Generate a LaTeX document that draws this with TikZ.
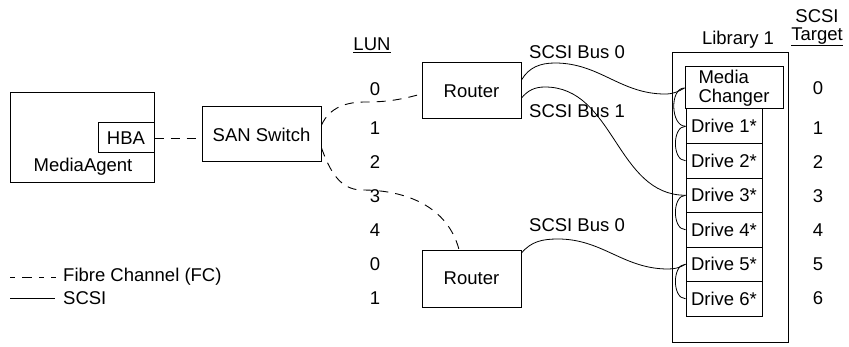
\documentclass[tikz,border=0pt]{standalone}
\usepackage{fontspec}
\setmainfont{Liberation Sans}
\begin{document}
\begin{tikzpicture}[x=1pt,y=1pt,
  font=\fontsize{18.5}{19}\selectfont,
  box/.style={draw, line width=1pt, inner sep=0pt, fill=white},
  lbl/.style={inner sep=0pt},
  fc/.style={line width=0.9pt, dash pattern=on 9pt off 7pt},
  scsi/.style={line width=0.8pt},
]
\useasboundingbox (0,0) rectangle (849,346);

% MediaAgent
\node[box, minimum width=144pt, minimum height=89pt] (ma) at (82,208.5) {};
\node[lbl] (malbl) at (83,179) {MediaAgent};
\node[box, minimum width=56pt, minimum height=30pt] (hba) at (126,208) {HBA};
\node[box, minimum width=119pt, minimum height=55pt] (san) at (261.5,211.5) {SAN Switch};

% Routers
\node[box, minimum width=99pt, minimum height=56pt] (r1) at (471.5,255) {Router};
\node[box, minimum width=99pt, minimum height=57pt] (r2) at (471.5,67.5) {Router};

% Library
\node[box, minimum width=116pt, minimum height=289pt] (lib) at (730,148.5) {};
\node[lbl] (liblbl) at (738,306) {Library 1};
\node[box, minimum width=98pt, minimum height=42pt, align=left] (mc) at (734,258) {Media\\Changer};
\node[box, minimum width=76pt, minimum height=34.5pt] (d1) at (724,219.75) {Drive 1*};
\node[box, minimum width=76pt, minimum height=34.5pt] (d2) at (724,185.25) {Drive 2*};
\node[box, minimum width=76pt, minimum height=34.5pt] (d3) at (724,150.75) {Drive 3*};
\node[box, minimum width=76pt, minimum height=34.5pt] (d4) at (724,116.25) {Drive 4*};
\node[box, minimum width=76pt, minimum height=34.5pt] (d5) at (724,81.75) {Drive 5*};
\node[box, minimum width=76pt, minimum height=34.5pt] (d6) at (724,47.25) {Drive 6*};

% LUN column
\node[lbl] (lun) at (372,301) {\underline{LUN}};
\node[lbl] (l0) at (375,257) {0};
\node[lbl] (l1) at (375,218) {1};
\node[lbl] (l2) at (375,184) {2};
\node[lbl] (l3) at (375,150) {3};
\node[lbl] (l4) at (375,116) {4};
\node[lbl] (l5) at (375,82) {0};
\node[lbl] (l6) at (375,48) {1};

% SCSI target column
\node[lbl] (tg1) at (817,330) {SCSI};
\node[lbl] (tg2) at (817,309) {\underline{Target}};
\node[lbl] (t0) at (818,258) {0};
\node[lbl] (t1) at (818,218) {1};
\node[lbl] (t2) at (818,184) {2};
\node[lbl] (t3) at (818,150) {3};
\node[lbl] (t4) at (818,116) {4};
\node[lbl] (t5) at (818,82) {5};
\node[lbl] (t6) at (818,48) {6};

% Bus labels
\node[lbl] (b0) at (577,294) {SCSI Bus 0};
\node[lbl] (b1) at (577,235) {SCSI Bus 1};
\node[lbl] (b2) at (577,121) {SCSI Bus 0};

% Fibre channel
\draw[fc] (hba.east) -- (san.west |- hba.east);
\draw[fc] ([yshift=9.5pt]san.east) to[out=65,in=180] (365,244) to[out=0,in=195] ([yshift=-3pt]r1.west);
\draw[fc] ([yshift=-13.5pt]san.east) to[out=-70,in=180] (362,156) to[out=0,in=105] ([xshift=-12.5pt]r2.north);

% SCSI buses
\draw[scsi] ([yshift=11pt]r1.east) to[out=60,in=180] (555,283) to[out=0,in=180] (665,252) to[out=0,in=210] (mc.west);
\draw[scsi] ([yshift=-7pt]r1.east) to[out=50,in=180] (545,259) to[out=0,in=180] (d3.west);
\draw[scsi] ([yshift=25.5pt]r2.east) to[out=50,in=180] (558,107) to[out=0,in=180] (668,77) to[out=0,in=210] (d5.west);

% daisy chains
\draw[scsi] (mc.west) to[out=180,in=180] (d1.west);
\draw[scsi] (d1.west) to[out=180,in=180] (d2.west);
\draw[scsi] (d3.west) to[out=180,in=180] (d4.west);
\draw[scsi] (d5.west) to[out=180,in=180] (d6.west);

% Legend
\coordinate (lg1a) at (10,69);
\coordinate (lg1b) at (58,69);
\coordinate (lg2a) at (10,48);
\coordinate (lg2b) at (55,48);
\draw[line width=0.9pt, dash pattern=on 5pt off 7pt on 10pt off 7pt on 5pt off 7pt] (lg1a) -- (lg1b);
\draw[scsi] (lg2a) -- (lg2b);
\node[lbl, anchor=west] (fcl) at (63,69) {Fibre Channel (FC)};
\node[lbl, anchor=west] (scl) at (63,48) {SCSI};
\end{tikzpicture}
\end{document}
